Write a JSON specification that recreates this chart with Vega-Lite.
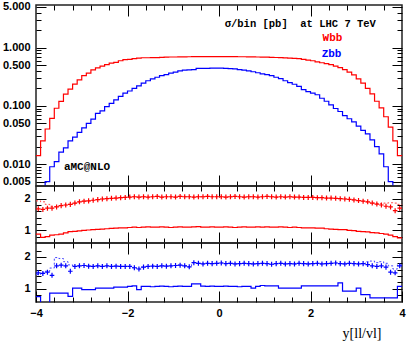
{
"$schema": "https://vega.github.io/schema/vega-lite/v6.json",
"padding": {"left": 1, "top": 0, "right": 2, "bottom": 0},
"spacing": 0,
"bounds": "flush",
"config": {
  "view": {"stroke": "#222", "strokeWidth": 1.5},
  "axis": {"labelFont": "Liberation Sans", "labelFontWeight": "bold", "labelFontSize": 11, "labelColor": "#000", "tickColor": "#000", "tickWidth": 1, "domain": false, "grid": false}
},
"datasets": {
"bins": [
{"lo":-4,"W":0.014,"Z":0.0025,"rw":1.68,"dw":1.93,"lw":0.88,"rz":1.50,"dz":1.45,"lz":0.75},
{"lo":-3.9,"W":0.025,"Z":0.0032,"rw":1.66,"dw":1.90,"lw":0.78,"rz":1.48,"dz":1.50,"lz":0.56},
{"lo":-3.8,"W":0.040,"Z":0.005,"rw":1.70,"dw":1.82,"lw":0.80,"rz":1.52,"dz":1.55,"lz":0.56},
{"lo":-3.7,"W":0.061,"Z":0.009,"rw":1.70,"dw":1.76,"lw":0.85,"rz":1.42,"dz":1.65,"lz":0.86},
{"lo":-3.6,"W":0.091,"Z":0.011,"rw":1.74,"dw":1.75,"lw":0.86,"rz":1.72,"dz":1.98,"lz":0.86},
{"lo":-3.5,"W":0.119,"Z":0.016,"rw":1.78,"dw":1.79,"lw":0.88,"rz":1.74,"dz":1.95,"lz":0.86},
{"lo":-3.4,"W":0.159,"Z":0.019,"rw":1.80,"dw":1.80,"lw":0.92,"rz":1.72,"dz":1.85,"lz":0.86},
{"lo":-3.3,"W":0.194,"Z":0.025,"rw":1.82,"dw":1.82,"lw":0.96,"rz":1.55,"dz":1.75,"lz":0.76},
{"lo":-3.2,"W":0.237,"Z":0.029,"rw":1.86,"dw":1.86,"lw":0.97,"rz":1.70,"dz":1.70,"lz":1.02},
{"lo":-3.1,"W":0.28,"Z":0.035,"rw":1.90,"dw":1.90,"lw":0.98,"rz":1.72,"dz":1.72,"lz":1.02},
{"lo":-3.0,"W":0.33,"Z":0.042,"rw":1.92,"dw":1.92,"lw":1.00,"rz":1.73,"dz":1.73,"lz":0.97},
{"lo":-2.9,"W":0.366,"Z":0.050,"rw":1.93,"dw":1.93,"lw":1.01,"rz":1.71,"dz":1.71,"lz":0.97},
{"lo":-2.8,"W":0.414,"Z":0.059,"rw":1.95,"dw":1.95,"lw":1.02,"rz":1.70,"dz":1.70,"lz":0.97},
{"lo":-2.7,"W":0.45,"Z":0.074,"rw":1.97,"dw":1.97,"lw":1.03,"rz":1.72,"dz":1.72,"lz":1.02},
{"lo":-2.6,"W":0.48,"Z":0.082,"rw":1.99,"dw":1.99,"lw":1.04,"rz":1.70,"dz":1.70,"lz":1.02},
{"lo":-2.5,"W":0.51,"Z":0.097,"rw":2.00,"dw":2.00,"lw":1.05,"rz":1.72,"dz":1.72,"lz":1.02},
{"lo":-2.4,"W":0.54,"Z":0.11,"rw":2.01,"dw":2.01,"lw":1.06,"rz":1.70,"dz":1.70,"lz":1.02},
{"lo":-2.3,"W":0.56,"Z":0.127,"rw":2.02,"dw":2.02,"lw":1.07,"rz":1.71,"dz":1.71,"lz":1.05},
{"lo":-2.2,"W":0.595,"Z":0.145,"rw":2.03,"dw":2.03,"lw":1.08,"rz":1.70,"dz":1.70,"lz":1.05},
{"lo":-2.1,"W":0.62,"Z":0.165,"rw":2.04,"dw":2.04,"lw":1.08,"rz":1.70,"dz":1.70,"lz":1.05},
{"lo":-2.0,"W":0.63,"Z":0.18,"rw":2.05,"dw":2.05,"lw":1.09,"rz":1.70,"dz":1.70,"lz":1.07},
{"lo":-1.9,"W":0.645,"Z":0.2,"rw":2.06,"dw":2.06,"lw":1.10,"rz":1.66,"dz":1.66,"lz":1.09},
{"lo":-1.8,"W":0.66,"Z":0.22,"rw":2.05,"dw":2.05,"lw":1.09,"rz":1.62,"dz":1.62,"lz":0.97},
{"lo":-1.7,"W":0.67,"Z":0.245,"rw":2.06,"dw":2.06,"lw":1.10,"rz":1.68,"dz":1.68,"lz":1.07},
{"lo":-1.6,"W":0.67,"Z":0.27,"rw":2.05,"dw":2.05,"lw":1.11,"rz":1.70,"dz":1.70,"lz":1.07},
{"lo":-1.5,"W":0.672,"Z":0.29,"rw":2.06,"dw":2.06,"lw":1.10,"rz":1.71,"dz":1.71,"lz":1.06},
{"lo":-1.4,"W":0.675,"Z":0.31,"rw":2.07,"dw":2.07,"lw":1.10,"rz":1.70,"dz":1.70,"lz":1.07},
{"lo":-1.3,"W":0.68,"Z":0.33,"rw":2.05,"dw":2.05,"lw":1.11,"rz":1.72,"dz":1.72,"lz":1.08},
{"lo":-1.2,"W":0.685,"Z":0.345,"rw":2.06,"dw":2.06,"lw":1.10,"rz":1.71,"dz":1.71,"lz":1.07},
{"lo":-1.1,"W":0.69,"Z":0.365,"rw":2.06,"dw":2.06,"lw":1.09,"rz":1.72,"dz":1.72,"lz":1.06},
{"lo":-1.0,"W":0.69,"Z":0.38,"rw":2.05,"dw":2.05,"lw":1.10,"rz":1.73,"dz":1.73,"lz":1.07},
{"lo":-0.9,"W":0.692,"Z":0.40,"rw":2.07,"dw":2.07,"lw":1.11,"rz":1.74,"dz":1.74,"lz":1.08},
{"lo":-0.8,"W":0.695,"Z":0.41,"rw":2.06,"dw":2.06,"lw":1.10,"rz":1.72,"dz":1.72,"lz":1.07},
{"lo":-0.7,"W":0.697,"Z":0.415,"rw":2.06,"dw":2.06,"lw":1.10,"rz":1.69,"dz":1.69,"lz":1.07},
{"lo":-0.6,"W":0.70,"Z":0.42,"rw":2.05,"dw":2.05,"lw":1.11,"rz":1.82,"dz":1.82,"lz":1.15},
{"lo":-0.5,"W":0.70,"Z":0.44,"rw":2.06,"dw":2.06,"lw":1.12,"rz":1.80,"dz":1.80,"lz":1.15},
{"lo":-0.4,"W":0.702,"Z":0.44,"rw":2.06,"dw":2.06,"lw":1.10,"rz":1.78,"dz":1.78,"lz":1.08},
{"lo":-0.3,"W":0.70,"Z":0.44,"rw":2.07,"dw":2.07,"lw":1.10,"rz":1.80,"dz":1.80,"lz":1.07},
{"lo":-0.2,"W":0.703,"Z":0.445,"rw":2.06,"dw":2.06,"lw":1.11,"rz":1.79,"dz":1.79,"lz":1.08},
{"lo":-0.1,"W":0.70,"Z":0.445,"rw":2.06,"dw":2.06,"lw":1.10,"rz":1.80,"dz":1.80,"lz":1.07},
{"lo":0,"W":0.70,"Z":0.445,"rw":2.06,"dw":2.06,"lw":1.10,"rz":1.81,"dz":1.81,"lz":1.07},
{"lo":0.1,"W":0.703,"Z":0.44,"rw":2.05,"dw":2.05,"lw":1.11,"rz":1.79,"dz":1.79,"lz":1.08},
{"lo":0.2,"W":0.70,"Z":0.435,"rw":2.06,"dw":2.06,"lw":1.10,"rz":1.80,"dz":1.80,"lz":1.07},
{"lo":0.3,"W":0.70,"Z":0.43,"rw":2.07,"dw":2.07,"lw":1.09,"rz":1.78,"dz":1.78,"lz":1.07},
{"lo":0.4,"W":0.698,"Z":0.42,"rw":2.06,"dw":2.06,"lw":1.10,"rz":1.79,"dz":1.79,"lz":1.06},
{"lo":0.5,"W":0.697,"Z":0.41,"rw":2.05,"dw":2.05,"lw":1.11,"rz":1.80,"dz":1.80,"lz":1.07},
{"lo":0.6,"W":0.695,"Z":0.40,"rw":2.06,"dw":2.06,"lw":1.10,"rz":1.79,"dz":1.79,"lz":1.07},
{"lo":0.7,"W":0.692,"Z":0.385,"rw":2.06,"dw":2.06,"lw":1.10,"rz":1.78,"dz":1.78,"lz":1.02},
{"lo":0.8,"W":0.69,"Z":0.37,"rw":2.05,"dw":2.05,"lw":1.11,"rz":1.79,"dz":1.79,"lz":1.07},
{"lo":0.9,"W":0.688,"Z":0.355,"rw":2.06,"dw":2.06,"lw":1.10,"rz":1.80,"dz":1.80,"lz":1.10},
{"lo":1.0,"W":0.685,"Z":0.345,"rw":2.07,"dw":2.07,"lw":1.11,"rz":1.79,"dz":1.79,"lz":1.09},
{"lo":1.1,"W":0.68,"Z":0.33,"rw":2.06,"dw":2.06,"lw":1.10,"rz":1.77,"dz":1.77,"lz":1.09},
{"lo":1.2,"W":0.677,"Z":0.31,"rw":2.05,"dw":2.05,"lw":1.10,"rz":1.79,"dz":1.79,"lz":1.09},
{"lo":1.3,"W":0.672,"Z":0.294,"rw":2.06,"dw":2.06,"lw":1.11,"rz":1.80,"dz":1.80,"lz":1.02},
{"lo":1.4,"W":0.667,"Z":0.27,"rw":2.05,"dw":2.05,"lw":1.10,"rz":1.78,"dz":1.78,"lz":1.02},
{"lo":1.5,"W":0.66,"Z":0.25,"rw":2.06,"dw":2.06,"lw":1.09,"rz":1.79,"dz":1.79,"lz":1.02},
{"lo":1.6,"W":0.655,"Z":0.235,"rw":2.05,"dw":2.05,"lw":1.10,"rz":1.78,"dz":1.78,"lz":1.02},
{"lo":1.7,"W":0.645,"Z":0.216,"rw":2.05,"dw":2.05,"lw":1.09,"rz":1.80,"dz":1.80,"lz":1.02},
{"lo":1.8,"W":0.63,"Z":0.19,"rw":2.04,"dw":2.04,"lw":1.08,"rz":1.79,"dz":1.79,"lz":1.09},
{"lo":1.9,"W":0.61,"Z":0.175,"rw":2.04,"dw":2.04,"lw":1.08,"rz":1.78,"dz":1.78,"lz":1.09},
{"lo":2.0,"W":0.595,"Z":0.165,"rw":2.04,"dw":2.04,"lw":1.08,"rz":1.79,"dz":1.79,"lz":1.09},
{"lo":2.1,"W":0.57,"Z":0.155,"rw":2.03,"dw":2.03,"lw":1.07,"rz":1.80,"dz":1.80,"lz":1.09},
{"lo":2.2,"W":0.55,"Z":0.135,"rw":2.03,"dw":2.03,"lw":1.07,"rz":1.78,"dz":1.78,"lz":1.09},
{"lo":2.3,"W":0.53,"Z":0.12,"rw":2.02,"dw":2.02,"lw":1.05,"rz":1.79,"dz":1.79,"lz":1.09},
{"lo":2.4,"W":0.51,"Z":0.104,"rw":2.02,"dw":2.02,"lw":1.04,"rz":1.80,"dz":1.80,"lz":1.09},
{"lo":2.5,"W":0.48,"Z":0.09,"rw":2.01,"dw":2.01,"lw":1.03,"rz":1.81,"dz":1.81,"lz":1.09},
{"lo":2.6,"W":0.455,"Z":0.08,"rw":2.00,"dw":2.00,"lw":1.02,"rz":1.79,"dz":1.79,"lz":1.18},
{"lo":2.7,"W":0.42,"Z":0.068,"rw":1.99,"dw":1.99,"lw":1.02,"rz":1.78,"dz":1.78,"lz":0.92},
{"lo":2.8,"W":0.38,"Z":0.06,"rw":1.98,"dw":1.98,"lw":1.00,"rz":1.80,"dz":1.80,"lz":0.92},
{"lo":2.9,"W":0.34,"Z":0.053,"rw":1.96,"dw":1.96,"lw":0.99,"rz":1.79,"dz":1.79,"lz":0.92},
{"lo":3.0,"W":0.29,"Z":0.045,"rw":1.94,"dw":1.94,"lw":0.97,"rz":1.78,"dz":1.78,"lz":1.02},
{"lo":3.1,"W":0.245,"Z":0.038,"rw":1.92,"dw":1.92,"lw":0.96,"rz":1.79,"dz":1.79,"lz":0.81},
{"lo":3.2,"W":0.2,"Z":0.033,"rw":1.90,"dw":1.90,"lw":0.95,"rz":1.76,"dz":1.85,"lz":0.81},
{"lo":3.3,"W":0.16,"Z":0.026,"rw":1.86,"dw":1.86,"lw":0.93,"rz":1.72,"dz":1.87,"lz":0.71},
{"lo":3.4,"W":0.12,"Z":0.02,"rw":1.83,"dw":1.85,"lw":0.92,"rz":1.70,"dz":1.82,"lz":0.71},
{"lo":3.5,"W":0.092,"Z":0.015,"rw":1.80,"dw":1.84,"lw":0.90,"rz":1.72,"dz":1.85,"lz":0.71},
{"lo":3.6,"W":0.065,"Z":0.009,"rw":1.76,"dw":1.86,"lw":0.88,"rz":1.68,"dz":1.80,"lz":0.71},
{"lo":3.7,"W":0.043,"Z":0.005,"rw":1.74,"dw":1.87,"lw":0.85,"rz":1.52,"dz":1.72,"lz":0.71},
{"lo":3.8,"W":0.025,"Z":0.003,"rw":1.62,"dw":1.86,"lw":0.80,"rz":1.50,"dz":1.62,"lz":0.71},
{"lo":3.9,"W":0.014,"Z":0.002,"rw":1.70,"dw":1.82,"lw":0.76,"rz":1.72,"dz":1.75,"lz":1.07},
{"lo":4,"W":0.014,"Z":0.002,"rw":null,"dw":1.82,"lw":0.76,"rz":null,"dz":1.75,"lz":1.07}
]
},
"vconcat": [
{
  "width": 366, "height": 181,
  "resolve": {"axis": {"x": "independent", "y": "independent"}},
  "layer": [
    {"data": {"name": "bins"},
     "mark": {"type": "line", "interpolate": "step-after", "color": "#ff0000", "strokeWidth": 1.2, "clip": true},
     "encoding": {
       "x": {"field": "lo", "type": "quantitative", "scale": {"domain": [-4, 4], "nice": false},
             "axis": {"orient": "bottom", "values": [-3.6,-3.2,-2.8,-2.4,-2,-1.6,-1.2,-0.8,-0.4,0,0.4,0.8,1.2,1.6,2,2.4,2.8,3.2,3.6], "labels": false, "title": null,
                      "tickSize": {"condition": {"test": "abs(datum.value)%2==0", "value": -11}, "value": -5}}},
       "y": {"field": "W", "type": "quantitative", "scale": {"type": "log", "domain": [0.0042, 5.4], "nice": false},
             "axis": {"orient": "left", "values": [0.005,0.006,0.007,0.008,0.009,0.01,0.02,0.03,0.04,0.05,0.06,0.07,0.08,0.09,0.1,0.2,0.3,0.4,0.5,0.6,0.7,0.8,0.9,1,2,3,4,5], "title": null,
                      "labelExpr": "indexof([0.005,0.01,0.05,0.1,0.5,1,5], datum.value) >= 0 ? format(datum.value, '.3f') : ''",
                      "labelFontSize": {"condition": {"test": "indexof([0.005,0.01,0.05,0.1,0.5,1,5], datum.value) >= 0", "value": 11}, "value": 0},
                      "tickSize": {"condition": {"test": "indexof([0.005,0.01,0.05,0.1,0.5,1,5], datum.value) >= 0", "value": -10}, "value": -5},
                      "labelPadding": 16, "labelOverlap": false, "labelFlush": false, "labelBound": false}}
     }},
    {"data": {"name": "bins"},
     "mark": {"type": "line", "interpolate": "step-after", "color": "#0000ff", "strokeWidth": 1.2, "clip": true},
     "encoding": {
       "x": {"field": "lo", "type": "quantitative", "scale": {"domain": [-4, 4], "nice": false},
             "axis": {"orient": "top", "values": [-3.6,-3.2,-2.8,-2.4,-2,-1.6,-1.2,-0.8,-0.4,0,0.4,0.8,1.2,1.6,2,2.4,2.8,3.2,3.6], "labels": false, "title": null,
                      "tickSize": {"condition": {"test": "abs(datum.value)%2==0", "value": -11}, "value": -5}}},
       "y": {"field": "Z", "type": "quantitative", "scale": {"type": "log", "domain": [0.0042, 5.4], "nice": false},
             "axis": {"orient": "right", "values": [0.005,0.006,0.007,0.008,0.009,0.01,0.02,0.03,0.04,0.05,0.06,0.07,0.08,0.09,0.1,0.2,0.3,0.4,0.5,0.6,0.7,0.8,0.9,1,2,3,4,5], "title": null, "labels": false,
                      "tickSize": {"condition": {"test": "indexof([0.005,0.01,0.05,0.1,0.5,1,5], datum.value) >= 0", "value": -10}, "value": -5}}}
     }},
    {"data": {"values": [{"x": 3.43, "y": 2.5, "t": "σ/bin [pb]\u00a0 at LHC 7 TeV"}]},
     "mark": {"type": "text", "align": "right", "baseline": "middle", "font": "Liberation Mono", "fontWeight": "bold", "fontSize": 10.5, "color": "#000"},
     "encoding": {
       "x": {"field": "x", "type": "quantitative", "scale": {"domain": [-4, 4], "nice": false}, "axis": null},
       "y": {"field": "y", "type": "quantitative", "scale": {"type": "log", "domain": [0.0042, 5.4], "nice": false}, "axis": null},
       "text": {"field": "t"}}},
    {"data": {"values": [{"x": 2.48, "y": 1.47, "t": "Wbb"}]},
     "mark": {"type": "text", "align": "center", "baseline": "middle", "font": "Liberation Mono", "fontWeight": "bold", "fontSize": 11, "color": "#ff0000"},
     "encoding": {
       "x": {"field": "x", "type": "quantitative", "scale": {"domain": [-4, 4], "nice": false}, "axis": null},
       "y": {"field": "y", "type": "quantitative", "scale": {"type": "log", "domain": [0.0042, 5.4], "nice": false}, "axis": null},
       "text": {"field": "t"}}},
    {"data": {"values": [{"x": 2.46, "y": 0.78, "t": "Zbb"}]},
     "mark": {"type": "text", "align": "center", "baseline": "middle", "font": "Liberation Mono", "fontWeight": "bold", "fontSize": 11, "color": "#0000ff"},
     "encoding": {
       "x": {"field": "x", "type": "quantitative", "scale": {"domain": [-4, 4], "nice": false}, "axis": null},
       "y": {"field": "y", "type": "quantitative", "scale": {"type": "log", "domain": [0.0042, 5.4], "nice": false}, "axis": null},
       "text": {"field": "t"}}},
    {"data": {"values": [{"x": -3.39, "y": 0.009, "t": "aMC@NLO"}]},
     "mark": {"type": "text", "align": "left", "baseline": "middle", "font": "Liberation Mono", "fontWeight": "bold", "fontSize": 11, "color": "#000"},
     "encoding": {
       "x": {"field": "x", "type": "quantitative", "scale": {"domain": [-4, 4], "nice": false}, "axis": null},
       "y": {"field": "y", "type": "quantitative", "scale": {"type": "log", "domain": [0.0042, 5.4], "nice": false}, "axis": null},
       "text": {"field": "t"}}}
  ]
},
{
  "width": 366, "height": 57,
  "resolve": {"axis": {"x": "independent", "y": "independent"}},
  "layer": [
    {"data": {"name": "bins"},
     "mark": {"type": "line", "interpolate": "step-after", "color": "#ff0000", "strokeWidth": 1.2, "clip": true},
     "encoding": {
       "x": {"field": "lo", "type": "quantitative", "scale": {"domain": [-4, 4], "nice": false},
             "axis": {"orient": "bottom", "values": [-3.6,-3.2,-2.8,-2.4,-2,-1.6,-1.2,-0.8,-0.4,0,0.4,0.8,1.2,1.6,2,2.4,2.8,3.2,3.6], "labels": false, "title": null,
                      "tickSize": {"condition": {"test": "abs(datum.value)%2==0", "value": -11}, "value": -5}}},
       "y": {"field": "lw", "type": "quantitative", "scale": {"domain": [0.6, 2.4], "nice": false, "zero": false},
             "axis": {"orient": "left", "values": [0.8,1,1.2,1.4,1.6,1.8,2,2.2], "title": null,
                      "labelExpr": "datum.value == 1 ? '1' : datum.value == 2 ? '2' : ''",
                      "labelFontSize": {"condition": {"test": "datum.value == 1 || datum.value == 2", "value": 11}, "value": 0},
                      "tickSize": {"condition": {"test": "datum.value == 1 || datum.value == 2", "value": -10}, "value": -5},
                      "labelPadding": 16, "labelOverlap": false, "labelFlush": false, "labelBound": false}}
     }},
    {"data": {"name": "bins"},
     "mark": {"type": "line", "interpolate": "step-after", "color": "#ff4040", "strokeWidth": 1, "strokeDash": [2, 2], "clip": true},
     "encoding": {
       "x": {"field": "lo", "type": "quantitative", "scale": {"domain": [-4, 4], "nice": false},
             "axis": {"orient": "top", "values": [-3.6,-3.2,-2.8,-2.4,-2,-1.6,-1.2,-0.8,-0.4,0,0.4,0.8,1.2,1.6,2,2.4,2.8,3.2,3.6], "labels": false, "title": null,
                      "tickSize": {"condition": {"test": "abs(datum.value)%2==0", "value": -11}, "value": -5}}},
       "y": {"field": "dw", "type": "quantitative", "scale": {"domain": [0.6, 2.4], "nice": false, "zero": false},
             "axis": {"orient": "right", "values": [0.8,1,1.2,1.4,1.6,1.8,2,2.2], "title": null, "labels": false,
                      "tickSize": {"condition": {"test": "datum.value == 1 || datum.value == 2", "value": -10}, "value": -5}}}
     }},
    {"data": {"name": "bins"},
     "mark": {"type": "point", "shape": "M-1,0H1M0,-1.1V1.1", "size": 21, "filled": false, "stroke": "#ff0000", "strokeWidth": 1.2, "opacity": 1, "xOffset": 2.29, "clip": true},
     "encoding": {
       "x": {"field": "lo", "type": "quantitative", "scale": {"domain": [-4, 4], "nice": false}, "axis": null},
       "y": {"field": "rw", "type": "quantitative", "scale": {"domain": [0.6, 2.4], "nice": false, "zero": false}, "axis": null}
     }}
  ]
},
{
  "width": 366, "height": 59,
  "resolve": {"axis": {"x": "independent", "y": "independent"}},
  "layer": [
    {"data": {"name": "bins"},
     "mark": {"type": "line", "interpolate": "step-after", "color": "#0000ff", "strokeWidth": 1.2, "clip": true},
     "encoding": {
       "x": {"field": "lo", "type": "quantitative", "scale": {"domain": [-4, 4], "nice": false},
             "axis": {"orient": "bottom", "values": [-4,-3.6,-3.2,-2.8,-2.4,-2,-1.6,-1.2,-0.8,-0.4,0,0.4,0.8,1.2,1.6,2,2.4,2.8,3.2,3.6,4],
                      "labelExpr": "abs(datum.value)%2==0 ? format(datum.value, 'd') : ''",
                      "labelFontSize": {"condition": {"test": "abs(datum.value)%2==0", "value": 11}, "value": 0},
                      "tickSize": {"condition": {"test": "abs(datum.value)%2==0", "value": -11}, "value": -5},
                      "labelPadding": 16, "labelOverlap": false, "labelFlush": false, "labelBound": false,
                      "title": "y[ll/vl]", "titleFont": "Liberation Serif", "titleFontSize": 14, "titleFontWeight": "normal", "titleColor": "#000",
                      "titleX": 345, "titleY": 35, "titleAlign": "right", "titleBaseline": "alphabetic"}},
       "y": {"field": "lz", "type": "quantitative", "scale": {"domain": [0.58, 2.44], "nice": false, "zero": false},
             "axis": {"orient": "left", "values": [0.8,1,1.2,1.4,1.6,1.8,2,2.2], "title": null,
                      "labelExpr": "datum.value == 1 ? '1' : datum.value == 2 ? '2' : ''",
                      "labelFontSize": {"condition": {"test": "datum.value == 1 || datum.value == 2", "value": 11}, "value": 0},
                      "tickSize": {"condition": {"test": "datum.value == 1 || datum.value == 2", "value": -10}, "value": -5},
                      "labelPadding": 16, "labelOverlap": false, "labelFlush": false, "labelBound": false}}
     }},
    {"data": {"name": "bins"},
     "mark": {"type": "line", "interpolate": "step-after", "color": "#4040ff", "strokeWidth": 1, "strokeDash": [2, 2], "clip": true},
     "encoding": {
       "x": {"field": "lo", "type": "quantitative", "scale": {"domain": [-4, 4], "nice": false},
             "axis": {"orient": "top", "values": [-3.6,-3.2,-2.8,-2.4,-2,-1.6,-1.2,-0.8,-0.4,0,0.4,0.8,1.2,1.6,2,2.4,2.8,3.2,3.6], "labels": false, "title": null,
                      "tickSize": {"condition": {"test": "abs(datum.value)%2==0", "value": -11}, "value": -5}}},
       "y": {"field": "dz", "type": "quantitative", "scale": {"domain": [0.58, 2.44], "nice": false, "zero": false},
             "axis": {"orient": "right", "values": [0.8,1,1.2,1.4,1.6,1.8,2,2.2], "title": null, "labels": false,
                      "tickSize": {"condition": {"test": "datum.value == 1 || datum.value == 2", "value": -10}, "value": -5}}}
     }},
    {"data": {"name": "bins"},
     "mark": {"type": "point", "shape": "M-1,0H1M0,-1.1V1.1", "size": 21, "filled": false, "stroke": "#0000ff", "strokeWidth": 1.2, "opacity": 1, "xOffset": 2.29, "clip": true},
     "encoding": {
       "x": {"field": "lo", "type": "quantitative", "scale": {"domain": [-4, 4], "nice": false}, "axis": null},
       "y": {"field": "rz", "type": "quantitative", "scale": {"domain": [0.58, 2.44], "nice": false, "zero": false}, "axis": null}
     }}
  ]
}
]
}
